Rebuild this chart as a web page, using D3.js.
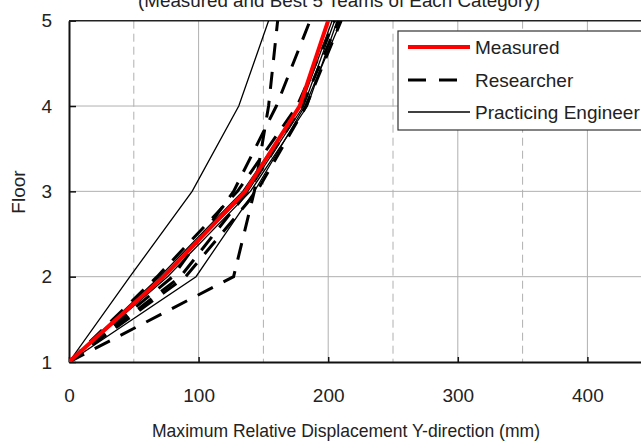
<!DOCTYPE html>
<html>
<head>
<meta charset="utf-8">
<script src="https://cdn.jsdelivr.net/npm/d3@7"></script>
<style>
  body { margin: 0; background: #fff; }
  text { font-family: "Liberation Sans Narrow", "Arial Narrow", "Liberation Sans", sans-serif; fill: #222; }
</style>
</head>
<body>
<div id="chart"></div>
<script>
// floors 1..5, displacement in mm
var floors = [1, 2, 3, 4, 5];
var measured = [0, 73, 136, 178, 200];

var researchers = [
  [0, 127, 143, 154, 161],
  [0, 80, 127, 160, 186],
  [0, 68, 130, 176, 205],
  [0, 86, 138, 180, 208],
  [0, 90, 145, 183, 210]
];

var engineers = [
  [0, 47, 95, 131, 154],
  [0, 98, 143, 182, 210],
  [0, 72, 138, 181, 205],
  [0, 76, 140, 184, 207],
  [0, 70, 134, 179, 203]
];

var xTicks = [0, 100, 200, 300, 400];
var xMinor = [50, 150, 250, 350, 450];
var legendNames = ["Measured", "Researcher", "Practicing Engineer"];

var W = 641, H = 441;
var mLeft = 69, mTop = 20.7, mBottom = 362;

var svg = d3.select("#chart").append("svg")
  .attr("width", W)
  .attr("height", H);

var x = d3.scaleLinear().domain([0, 500]).range([mLeft, mLeft + 648]);
var y = d3.scaleLinear().domain([1, 5]).range([mBottom, mTop]);

// grid
svg.selectAll(".vgrid").data(xTicks.slice(1)).enter().append("line")
  .attr("x1", d => x(d)).attr("x2", d => x(d))
  .attr("y1", mTop).attr("y2", mBottom)
  .attr("stroke", "#b0b0b0").attr("stroke-width", 1);

svg.selectAll(".vdash").data(xMinor).enter().append("line")
  .attr("x1", d => x(d)).attr("x2", d => x(d))
  .attr("y1", mTop).attr("y2", mBottom)
  .attr("stroke", "#b0b0b0").attr("stroke-width", 1)
  .attr("stroke-dasharray", "8,5");

svg.selectAll(".hgrid").data([2, 3, 4]).enter().append("line")
  .attr("x1", mLeft).attr("x2", W)
  .attr("y1", d => y(d)).attr("y2", d => y(d))
  .attr("stroke", "#b0b0b0").attr("stroke-width", 1);

// axes
var xAxis = d3.axisBottom(x).tickValues(xTicks).tickSizeInner(-5).tickSizeOuter(0).tickPadding(27);
var gx = svg.append("g").attr("transform", "translate(0," + mBottom + ")").call(xAxis);
gx.select(".domain").attr("stroke", "#111").attr("stroke-width", 2);
gx.selectAll(".tick line").attr("stroke", "#111").attr("stroke-width", 1.5);
gx.selectAll(".tick text").style("font-size", "19px").attr("fill", "#222");

var yAxis = d3.axisLeft(y).tickValues(floors).tickFormat(d3.format("d"))
  .tickSizeInner(-7).tickSizeOuter(0).tickPadding(17);
var gy = svg.append("g").attr("transform", "translate(" + mLeft + ",0)").call(yAxis);
gy.select(".domain").attr("stroke", "#111").attr("stroke-width", 2);
gy.selectAll(".tick line").attr("stroke", "#111").attr("stroke-width", 1.5);
gy.selectAll(".tick text").style("font-size", "19px").attr("fill", "#222");
svg.selectAll("g").attr("font-family", null).attr("font-size", null);

// top border
svg.append("line")
  .attr("x1", mLeft).attr("x2", W)
  .attr("y1", mTop).attr("y2", mTop)
  .attr("stroke", "#222").attr("stroke-width", 1.5);

// lines
var line = d3.line()
  .x(d => x(d[0]))
  .y(d => y(d[1]));

svg.append("clipPath").attr("id", "plotclip")
  .append("rect").attr("x", mLeft).attr("y", mTop).attr("width", 648).attr("height", mBottom - mTop);

var plot = svg.append("g").attr("clip-path", "url(#plotclip)");

plot.selectAll(".eng").data(engineers).enter().append("path")
  .attr("d", s => line(s.map((v, i) => [v, floors[i]])))
  .attr("fill", "none").attr("stroke", "#000").attr("stroke-width", 1.3);

plot.selectAll(".res").data(researchers).enter().append("path")
  .attr("d", s => line(s.map((v, i) => [v, floors[i]])))
  .attr("fill", "none").attr("stroke", "#000").attr("stroke-width", 3)
  .attr("stroke-dasharray", "17,12");

plot.append("path")
  .attr("d", line(measured.map((v, i) => [v, floors[i]])))
  .attr("fill", "none").attr("stroke", "#ff0000").attr("stroke-width", 4);

// legend
var lg = svg.append("g");
lg.append("rect")
  .attr("x", 398).attr("y", 31).attr("width", 260).attr("height", 99)
  .attr("fill", "#fff").attr("stroke", "#333").attr("stroke-width", 1.2);

var legY = [47, 80, 112];
var legStyle = [
  { c: "#ff0000", w: 4, d: null, x2: 470 },
  { c: "#000", w: 3, d: "18,13", x2: 458 },
  { c: "#000", w: 1.3, d: null, x2: 470 }
];
legendNames.forEach(function(n, i) {
  lg.append("line")
    .attr("x1", 408).attr("x2", legStyle[i].x2)
    .attr("y1", legY[i]).attr("y2", legY[i])
    .attr("stroke", legStyle[i].c).attr("stroke-width", legStyle[i].w)
    .attr("stroke-dasharray", legStyle[i].d);
  lg.append("text")
    .attr("x", 475).attr("y", legY[i] + 7)
    .style("font-size", "19px")
    .text(n);
});

// titles (the top line is cut by the page edge, as in the source)
svg.append("text")
  .attr("x", 339).attr("y", 7)
  .attr("text-anchor", "middle")
  .style("font-size", "19px")
  .attr("textLength", 402).attr("lengthAdjust", "spacingAndGlyphs")
  .text("(Measured and Best 5 Teams of Each Category)");

svg.append("text")
  .attr("x", 346).attr("y", 437)
  .attr("text-anchor", "middle")
  .style("font-size", "19px")
  .attr("textLength", 388).attr("lengthAdjust", "spacingAndGlyphs")
  .text("Maximum Relative Displacement Y-direction (mm)");

svg.append("text")
  .attr("transform", "translate(25,192) rotate(-90)")
  .attr("text-anchor", "middle")
  .style("font-size", "19px")
  .text("Floor");
</script>
</body>
</html>
